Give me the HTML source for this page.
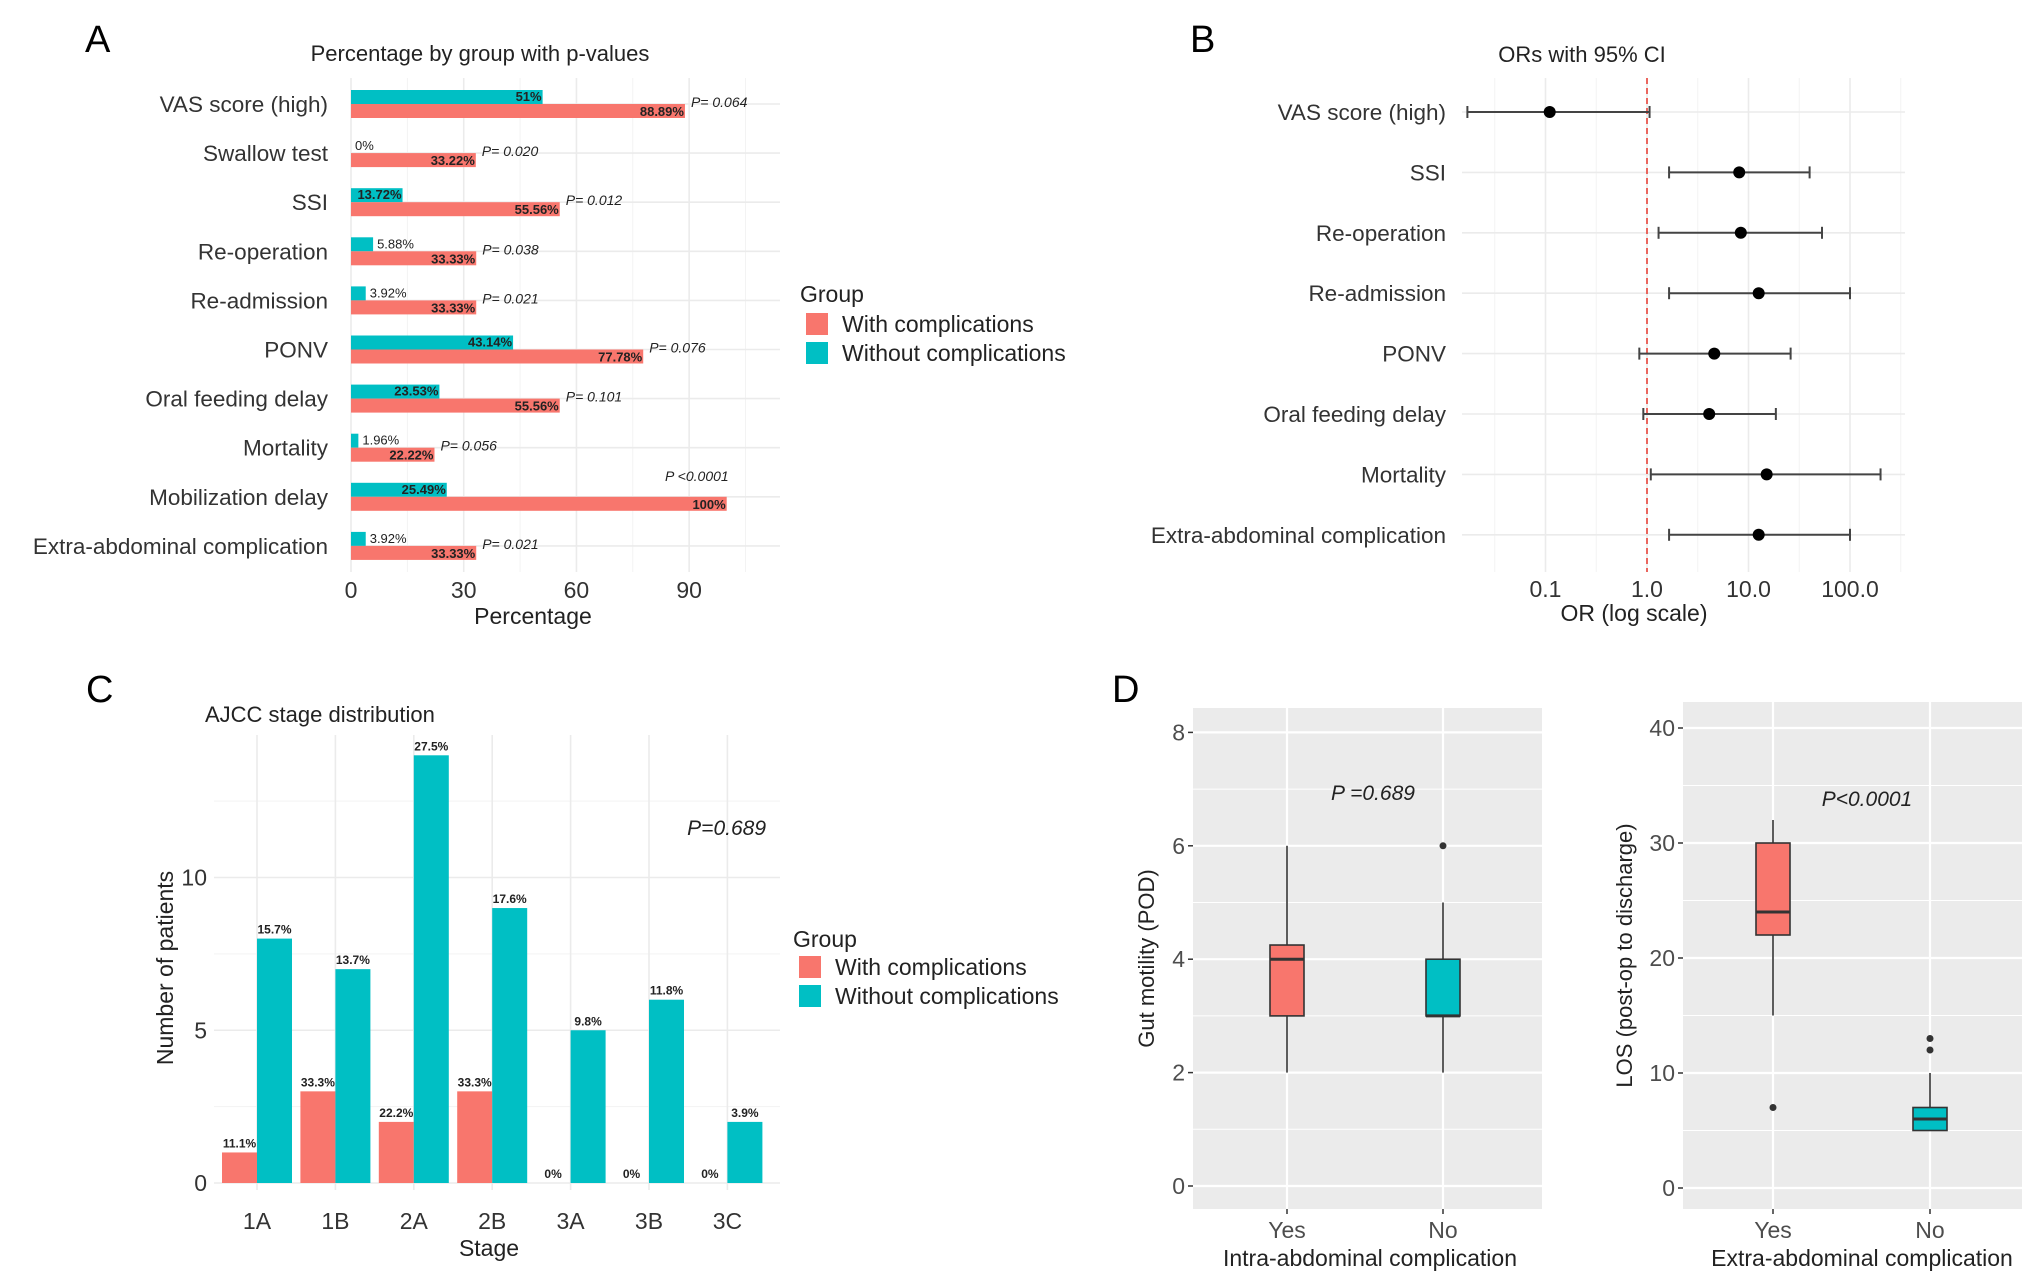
<!DOCTYPE html>
<html><head><meta charset="utf-8"><style>
html,body{margin:0;padding:0;background:#fff}
svg{display:block;font-family:"Liberation Sans",Arial,sans-serif}
</style></head><body>
<svg id="fig" width="2032" height="1283" viewBox="0 0 2032 1283" xmlns="http://www.w3.org/2000/svg">
<g id="pA"></g>
<g id="pB"></g>
<g id="pC"></g>
<g id="pD"></g>
</svg>
<script>
// ---- Panel A data ----
const aCategories = ["VAS score (high)","Swallow test","SSI","Re-operation","Re-admission","PONV","Oral feeding delay","Mortality","Mobilization delay","Extra-abdominal complication"];
const aWithout = [51,0,13.72,5.88,3.92,43.14,23.53,1.96,25.49,3.92];
const aWith = [88.89,33.22,55.56,33.33,33.33,77.78,55.56,22.22,100,33.33];
const aWithoutLabels = ["51%","0%","13.72%","5.88%","3.92%","43.14%","23.53%","1.96%","25.49%","3.92%"];
const aWithLabels = ["88.89%","33.22%","55.56%","33.33%","33.33%","77.78%","55.56%","22.22%","100%","33.33%"];
const aPvalues = ["P= 0.064","P= 0.020","P= 0.012","P= 0.038","P= 0.021","P= 0.076","P= 0.101","P= 0.056","P <0.0001","P= 0.021"];
const aTicks = [0,30,60,90];
// ---- Panel B data ----
const bCategories = ["VAS score (high)","SSI","Re-operation","Re-admission","PONV","Oral feeding delay","Mortality","Extra-abdominal complication"];
const bOR = [0.11,8.1,8.4,12.6,4.6,4.1,15.1,12.6];
const bLow = [0.017,1.65,1.3,1.65,0.84,0.92,1.09,1.65];
const bHigh = [1.06,40,53,100,26,18.6,200,100];
const bTicks = [0.1,1,10,100];
const bTickLabels = ["0.1","1.0","10.0","100.0"];
// ---- Panel C data ----
const cStages = ["1A","1B","2A","2B","3A","3B","3C"];
const cWith = [1,3,2,3,0,0,0];
const cWithout = [8,7,14,9,5,6,2];
const cWithLabels = ["11.1%","33.3%","22.2%","33.3%","0%","0%","0%"];
const cWithoutLabels = ["15.7%","13.7%","27.5%","17.6%","9.8%","11.8%","3.9%"];
const cTicks = [0,5,10];
// ---- Panel D data ----
const dGroups = ["Yes","No"];
const dLeftStats = [[2,3,4,4.25,6],[2,3,3,4,5]];   // min,q1,med,q3,max
const dLeftOut = [[],[6]];
const dRightStats = [[15,22,24,30,32],[5,5,6,7,10]];
const dRightOut = [[7],[12,13]];
const dLeftTicks = [0,2,4,6,8];
const dRightTicks = [0,10,20,30,40];

const RED="#F8766D", CYAN="#00BFC4", NS="http://www.w3.org/2000/svg";
function mk(parent,tag,attrs,text){const e=document.createElementNS(NS,tag);for(const k in attrs)e.setAttribute(k,attrs[k]);if(text!==undefined)e.textContent=text;parent.appendChild(e);return e;}

// ================= Panel A =================
(function(){
const g=document.getElementById('pA');
const x=v=>351+v*3.757, y=i=>104+i*49.1;
let t=mk(g,'text',{x:85,y:52,'font-size':38,fill:'#000'},'A');


t=mk(g,'text',{x:480,y:61,'font-size':22,'text-anchor':'middle',fill:'#222'},'Percentage by group with p-values');


[15,45,75,105].forEach(v=>mk(g,'line',{x1:x(v),x2:x(v),y1:78,y2:572,stroke:'#f3f3f3','stroke-width':1}));
aTicks.forEach(v=>mk(g,'line',{x1:x(v),x2:x(v),y1:78,y2:572,stroke:'#ebebeb','stroke-width':1.6}));
aCategories.forEach((c,i)=>mk(g,'line',{x1:351,x2:780,y1:y(i),y2:y(i),stroke:'#ebebeb','stroke-width':1.6}));
aCategories.forEach((c,i)=>{
  const cy=y(i);
  let l=mk(g,'text',{x:328,y:cy+8,'font-size':22.5,'text-anchor':'end',fill:'#333'},c);
  
  
  let b=mk(g,'rect',{x:x(0),y:cy-14,width:Math.max(0,x(aWithout[i])-x(0)),height:14,fill:CYAN});
  
  
  b=mk(g,'rect',{x:x(0),y:cy,width:x(aWith[i])-x(0),height:14,fill:RED});
  
  
  const inside=aWithout[i]>10;
  mk(g,'text',{x:inside?x(aWithout[i])-1:x(aWithout[i])+4,y:cy-3,'font-size':13,'text-anchor':inside?'end':'start',fill:'#222','font-weight':inside?'bold':'normal'},aWithoutLabels[i]);
  mk(g,'text',{x:x(aWith[i])-1,y:cy+12,'font-size':13,'text-anchor':'end',fill:'#222','font-weight':'bold'},aWithLabels[i]);
  let p;
  if(aWith[i]>=100) p=mk(g,'text',{x:x(aWith[i])+2,y:cy-16,'font-size':14,'text-anchor':'end','font-style':'italic',fill:'#222'},aPvalues[i]);
  else p=mk(g,'text',{x:x(aWith[i])+6,y:cy+3,'font-size':14,'font-style':'italic',fill:'#222'},aPvalues[i]);
  
  
});
aTicks.forEach(v=>{let tk=mk(g,'text',{x:x(v),y:598,'font-size':23,'text-anchor':'middle',fill:'#333'},String(v));
  
  });
t=mk(g,'text',{x:533,y:624,'font-size':23,'text-anchor':'middle',fill:'#222'},'Percentage');


t=mk(g,'text',{x:800,y:302,'font-size':23,fill:'#222'},'Group');


[[RED,'With complications',313],[CYAN,'Without complications',342]].forEach(d=>{
  const r=mk(g,'rect',{x:806,y:d[2],width:22,height:22,fill:d[0]});
  
  
  const tx=mk(g,'text',{x:842,y:d[2]+19,'font-size':23,fill:'#222'},d[1]);
  
  
});
})();

// ================= Panel B =================
(function(){
const g=document.getElementById('pB');
const x=v=>1647+Math.log10(v)*101.5, y=i=>112+i*60.4;
let t=mk(g,'text',{x:1190,y:52,'font-size':38,fill:'#000'},'B');


t=mk(g,'text',{x:1582,y:62,'font-size':22,'text-anchor':'middle',fill:'#222'},'ORs with 95% CI');


[0.0316,0.316,3.16,31.6,316].forEach(v=>mk(g,'line',{x1:x(v),x2:x(v),y1:78,y2:572,stroke:'#f3f3f3','stroke-width':1}));
bTicks.forEach(v=>mk(g,'line',{x1:x(v),x2:x(v),y1:78,y2:572,stroke:'#ebebeb','stroke-width':1.6}));
bCategories.forEach((c,i)=>mk(g,'line',{x1:1462,x2:1905,y1:y(i),y2:y(i),stroke:'#ebebeb','stroke-width':1.6}));
mk(g,'line',{x1:x(1),x2:x(1),y1:78,y2:572,stroke:'#e8433a','stroke-width':1.6,'stroke-dasharray':'6,4'});
bCategories.forEach((c,i)=>{
  const cy=y(i);
  let l=mk(g,'text',{x:1446,y:cy+8,'font-size':22.5,'text-anchor':'end',fill:'#333'},c);
  
  
  const e=mk(g,'g',{stroke:'#444','stroke-width':2});
  
  
  mk(e,'line',{x1:x(bLow[i]),x2:x(bHigh[i]),y1:cy,y2:cy});
  mk(e,'line',{x1:x(bLow[i]),x2:x(bLow[i]),y1:cy-6,y2:cy+6});
  mk(e,'line',{x1:x(bHigh[i]),x2:x(bHigh[i]),y1:cy-6,y2:cy+6});
  const p=mk(g,'circle',{cx:x(bOR[i]),cy:cy,r:6,fill:'#000'});
  
  
});
bTicks.forEach((v,i)=>{let tk=mk(g,'text',{x:x(v),y:597,'font-size':23,'text-anchor':'middle',fill:'#333'},bTickLabels[i]);
  
  });
t=mk(g,'text',{x:1634,y:621,'font-size':23,'text-anchor':'middle',fill:'#222'},'OR (log scale)');


})();

// ================= Panel C =================
(function(){
const g=document.getElementById('pC');
const y=v=>1183-v*30.55, xc=i=>257+i*78.4, bw=35;
let t=mk(g,'text',{x:86,y:702,'font-size':38,fill:'#000'},'C');


t=mk(g,'text',{x:205,y:722,'font-size':22,fill:'#222'},'AJCC stage distribution');


[2.5,7.5,12.5].forEach(v=>mk(g,'line',{x1:214,x2:780,y1:y(v),y2:y(v),stroke:'#f3f3f3','stroke-width':1}));
cTicks.forEach(v=>mk(g,'line',{x1:214,x2:780,y1:y(v),y2:y(v),stroke:'#ebebeb','stroke-width':1.6}));
cStages.forEach((s,i)=>mk(g,'line',{x1:xc(i),x2:xc(i),y1:735,y2:1190,stroke:'#ebebeb','stroke-width':1.6}));
cStages.forEach((s,i)=>{
  const x=xc(i);
  let b=mk(g,'rect',{x:x-bw,y:y(cWith[i]),width:bw,height:y(0)-y(cWith[i]),fill:RED});
  
  
  b=mk(g,'rect',{x:x,y:y(cWithout[i]),width:bw,height:y(0)-y(cWithout[i]),fill:CYAN});
  
  
  mk(g,'text',{x:x-bw/2,y:y(cWith[i])-5,'font-size':12,'text-anchor':'middle',fill:'#222','font-weight':'bold'},cWithLabels[i]);
  mk(g,'text',{x:x+bw/2,y:y(cWithout[i])-5,'font-size':12,'text-anchor':'middle',fill:'#222','font-weight':'bold'},cWithoutLabels[i]);
  const l=mk(g,'text',{x:x,y:1229,'font-size':23,'text-anchor':'middle',fill:'#333'},s);
  
  
});
cTicks.forEach(v=>{let tk=mk(g,'text',{x:207,y:y(v)+8,'font-size':23,'text-anchor':'end',fill:'#333'},String(v));
  
  });
t=mk(g,'text',{x:0,y:0,'font-size':23,'text-anchor':'middle',fill:'#222',transform:'translate(173,968) rotate(-90)'},'Number of patients');


t=mk(g,'text',{x:489,y:1256,'font-size':23,'text-anchor':'middle',fill:'#222'},'Stage');


t=mk(g,'text',{x:766,y:835,'font-size':21,'text-anchor':'end','font-style':'italic',fill:'#222'},'P=0.689');


t=mk(g,'text',{x:793,y:947,'font-size':23,fill:'#222'},'Group');


[[RED,'With complications',956],[CYAN,'Without complications',985]].forEach(d=>{
  const r=mk(g,'rect',{x:799,y:d[2],width:22,height:22,fill:d[0]});
  
  
  const tx=mk(g,'text',{x:835,y:d[2]+19,'font-size':23,fill:'#222'},d[1]);
  
  
});
})();

// ================= Panel D =================
(function(){
const g=document.getElementById('pD');
let t=mk(g,'text',{x:1112,y:702,'font-size':38,fill:'#000'},'D');


function boxplot(o){
  const {x0,x1,y0,y1,zero,k,ticks,xs,stats,outs,ytitle,ytx,xtitle,xtx,ptext,ptx,pty,name}=o;
  const y=v=>zero-v*k;
  const bg=mk(g,'rect',{x:x0,y:y0,width:x1-x0,height:y1-y0,fill:'#ebebeb'});
  
  
  const step=ticks[1]-ticks[0];
  for(let v=ticks[0]-step/2;v<=ticks[ticks.length-1]+step/2;v+=step){const yy=y(v);if(yy>y0&&yy<y1)mk(g,'line',{x1:x0,x2:x1,y1:yy,y2:yy,stroke:'#fff','stroke-width':1});}
  ticks.forEach(v=>{mk(g,'line',{x1:x0,x2:x1,y1:y(v),y2:y(v),stroke:'#fff','stroke-width':2.2});
    mk(g,'line',{x1:x0-5,x2:x0,y1:y(v),y2:y(v),stroke:'#333','stroke-width':1.5});
    const tk=mk(g,'text',{x:x0-8,y:y(v)+8,'font-size':23,'text-anchor':'end',fill:'#4d4d4d'},String(v));
    
    });
  xs.forEach(x=>mk(g,'line',{x1:x,x2:x,y1:y0,y2:y1,stroke:'#fff','stroke-width':2.2}));
  dGroups.forEach((grp,i)=>{
    const x=xs[i], s=stats[i], w=17, col=i===0?RED:CYAN;
    mk(g,'line',{x1:x,x2:x,y1:y1,y2:y1+5,stroke:'#333','stroke-width':1.5});
    const bx=mk(g,'g',{});
    
    
    mk(bx,'line',{x1:x,x2:x,y1:y(s[0]),y2:y(s[1]),stroke:'#333','stroke-width':1.6});
    mk(bx,'line',{x1:x,x2:x,y1:y(s[3]),y2:y(s[4]),stroke:'#333','stroke-width':1.6});
    mk(bx,'rect',{x:x-w,y:y(s[3]),width:2*w,height:Math.max(1,y(s[1])-y(s[3])),fill:col,stroke:'#333','stroke-width':1.6});
    mk(bx,'line',{x1:x-w,x2:x+w,y1:y(s[2]),y2:y(s[2]),stroke:'#333','stroke-width':3});
    outs[i].forEach(v=>mk(bx,'circle',{cx:x,cy:y(v),r:3.5,fill:'#333'}));
    const l=mk(g,'text',{x:x,y:y1+29,'font-size':23,'text-anchor':'middle',fill:'#4d4d4d'},grp);
    
    
  });
  let a=mk(g,'text',{x:0,y:0,'font-size':22,'text-anchor':'middle',fill:'#222',transform:'translate('+ytx+','+((y0+y1)/2)+') rotate(-90)'},ytitle);
  
  
  a=mk(g,'text',{x:xtx,y:y1+57,'font-size':23,'text-anchor':'middle',fill:'#222'},xtitle);
  
  
  a=mk(g,'text',{x:ptx,y:pty,'font-size':21,'text-anchor':'middle','font-style':'italic',fill:'#222'},ptext);
  
  
}
boxplot({x0:1193,x1:1542,y0:708,y1:1209,zero:1186,k:56.7,ticks:dLeftTicks,xs:[1287,1443],stats:dLeftStats,outs:dLeftOut,
  ytitle:'Gut motility (POD)',ytx:1154,xtitle:'Intra-abdominal complication',xtx:1370,ptext:'P =0.689',ptx:1373,pty:800,name:'d-left'});
boxplot({x0:1683,x1:2022,y0:702,y1:1209,zero:1188,k:11.5,ticks:dRightTicks,xs:[1773,1930],stats:dRightStats,outs:dRightOut,
  ytitle:'LOS (post-op to discharge)',ytx:1632,xtitle:'Extra-abdominal complication',xtx:1862,ptext:'P<0.0001',ptx:1867,pty:806,name:'d-right'});
})();
</script>
</body></html>
